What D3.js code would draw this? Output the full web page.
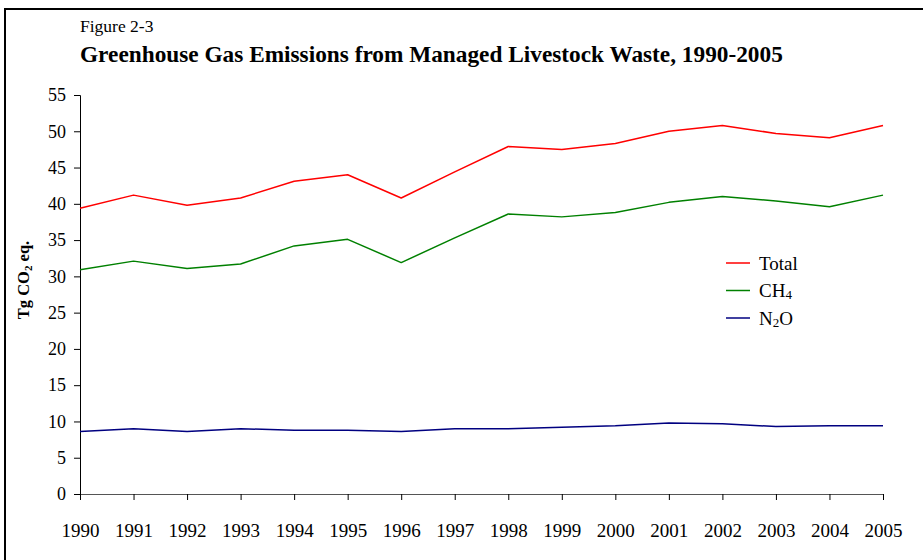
<!DOCTYPE html>
<html>
<head>
<meta charset="utf-8">
<script src="https://cdn.jsdelivr.net/npm/d3@7"></script>
<style>
  body { margin: 0; background: #fff; }
  svg { display: block; font-family: "Liberation Serif", "Times New Roman", serif; }
</style>
</head>
<body>
<svg class="chart"></svg>
<script>
// data
var years = [1990, 1991, 1992, 1993, 1994, 1995, 1996, 1997, 1998, 1999, 2000, 2001, 2002, 2003, 2004, 2005];
var total = [39.4, 41.2, 39.8, 40.8, 43.1, 44.0, 40.8, 44.4, 47.9, 47.5, 48.3, 50.0, 50.8, 49.7, 49.1, 50.8];
var ch4   = [30.9, 32.1, 31.1, 31.7, 34.2, 35.1, 31.9, 35.3, 38.6, 38.2, 38.8, 40.2, 41.0, 40.4, 39.6, 41.2];
var n2o   = [8.6, 9.0, 8.6, 9.0, 8.8, 8.8, 8.6, 9.0, 9.0, 9.2, 9.4, 9.8, 9.7, 9.3, 9.4, 9.4];
var yTicks = [0, 5, 10, 15, 20, 25, 30, 35, 40, 45, 50, 55];

var series = [
  { name: 'Total', sub: '', tail: '', values: total, color: '#ff0000' },
  { name: 'CH', sub: '4', tail: '', values: ch4, color: '#008000' },
  { name: 'N', sub: '2', tail: 'O', values: n2o, color: '#000080' }
];

var serif = '"Liberation Serif", "Times New Roman", serif';
var svgWidth = 923, svgHeight = 560;
var margin = {top: 95, right: 40, bottom: 66, left: 80};
var width = svgWidth - margin.left - margin.right;
var height = svgHeight - margin.top - margin.bottom;

var svg = d3.select('.chart')
    .attr('width', svgWidth)
    .attr('height', svgHeight);

// frame (top + left edges visible)
svg.append('path')
    .attr('d', 'M5,570 L5,9 L930,9')
    .attr('fill', 'none')
    .attr('stroke', '#000')
    .attr('stroke-width', 2);

svg.append('text')
    .attr('x', 80)
    .attr('y', 32)
    .attr('font-size', '17.5px')
    .text('Figure 2-3');

svg.append('text')
    .attr('x', 80)
    .attr('y', 62)
    .attr('font-size', '23.3px')
    .attr('font-weight', 'bold')
    .text('Greenhouse Gas Emissions from Managed Livestock Waste, 1990-2005');

var g = svg.append('g')
    .attr('transform', 'translate(' + margin.left + ',' + margin.top + ')');

var x = d3.scaleLinear()
    .domain(d3.extent(years))
    .range([0, width]);

var y = d3.scaleLinear()
    .domain([0, 55])
    .range([height, 0]);

// y axis
var yAxis = g.append('g')
    .attr('class', 'axis axis-y')
    .call(d3.axisLeft(y).tickValues(yTicks).tickSize(6).tickPadding(8))
    .attr('font-family', serif)
    .attr('font-size', null);
yAxis.selectAll('text').attr('font-size', '18px').attr('font-family', serif).attr('fill', '#000');
yAxis.select('.domain').attr('stroke', '#000');

// x axis
var xAxis = g.append('g')
    .attr('class', 'axis axis-x')
    .attr('transform', 'translate(0,' + height + ')')
    .call(d3.axisBottom(x).tickValues(years).tickFormat(d3.format('d')).tickSize(6).tickPadding(24))
    .attr('font-family', serif)
    .attr('font-size', null);
xAxis.selectAll('text').attr('font-size', '19px').attr('font-family', serif).attr('fill', '#000');
xAxis.select('.domain').attr('stroke', '#555');

// y label
var yl = svg.append('text')
    .attr('transform', 'translate(29,280) rotate(-90)')
    .attr('text-anchor', 'middle')
    .attr('font-size', '16.5px')
    .attr('font-weight', 'bold');
yl.append('tspan').text('Tg CO');
yl.append('tspan').attr('font-size', '11px').attr('dy', 3).text('2');
yl.append('tspan').attr('dy', -3).text(' eq.');

var line = d3.line()
    .x(function(d, i) { return x(years[i]); })
    .y(function(d) { return y(d); });

series.forEach(function(s) {
  g.append('path')
      .datum(s.values)
      .attr('fill', 'none')
      .attr('stroke', s.color)
      .attr('stroke-width', 1.5)
      .attr('stroke-linejoin', 'round')
      .attr('d', line);
});

// legend
var legend = svg.append('g')
    .attr('transform', 'translate(726,263)');
series.forEach(function(s, i) {
  var row = legend.append('g').attr('transform', 'translate(0,' + (i * 27.5) + ')');
  row.append('line')
      .attr('x1', 0).attr('x2', 24)
      .attr('stroke', s.color)
      .attr('stroke-width', 1.5);
  var t = row.append('text')
      .attr('x', 33)
      .attr('dy', '0.35em')
      .attr('font-size', '19px');
  t.append('tspan').text(s.name);
  if (s.sub) {
    t.append('tspan').attr('font-size', '13px').attr('dy', 2).text(s.sub);
  }
  if (s.tail) {
    t.append('tspan').attr('dy', -2).text(s.tail);
  }
});
</script>
</body>
</html>
